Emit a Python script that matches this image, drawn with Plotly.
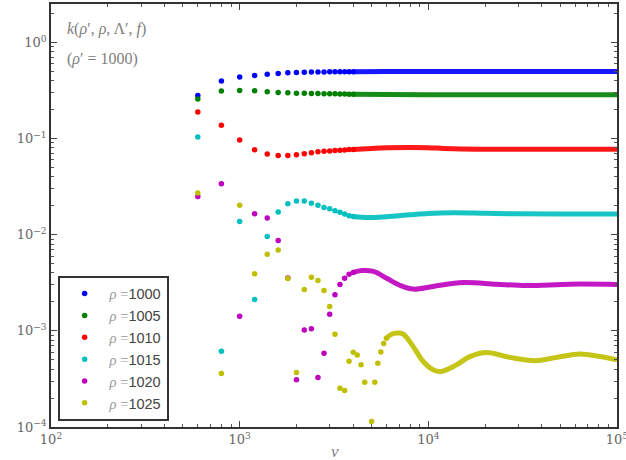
import plotly.graph_objects as go

# ---------------- data ----------------
v_dots = [600, 800, 1000, 1200, 1400, 1600, 1800, 2000, 2200, 2400,
          2600, 2800, 3000, 3200, 3400, 3600, 3800, 4000]

rho_labels = ["1000", "1005", "1010", "1015", "1020", "1025"]

k1000_dots = [0.28, 0.397, 0.436, 0.454, 0.468, 0.476, 0.483, 0.487, 0.490, 0.492,
              0.493, 0.494, 0.495, 0.495, 0.496, 0.496, 0.497, 0.497]
k1005_dots = [0.258, 0.312, 0.317, 0.314, 0.307, 0.302, 0.300, 0.297, 0.296, 0.295,
              0.294, 0.293, 0.292, 0.292, 0.291, 0.291, 0.290, 0.290]
k1010_dots = [0.189, 0.138, 0.0964, 0.0764, 0.069, 0.0667, 0.0667, 0.0678, 0.0695, 0.0711,
              0.0728, 0.074, 0.0745, 0.075, 0.0755, 0.076, 0.0768, 0.0772]
k1015_dots = [0.104, 6.15e-4, 0.0137, 2.12e-3, 9.6e-3, 0.0172, 0.0210, 0.0224, 0.0224, 0.0213,
              0.0203, 0.0192, 0.0186, 0.0178, 0.0171, 0.0164, 0.0158, 0.0155]
k1020_dots = [0.0250, 0.0339, 1.42e-3, 0.0165, 0.0149, 8.7e-3, 3.54e-3, 3.11e-4, 1.02e-3, 1.05e-3,
              3.27e-4, 5.86e-4, 1.49e-3, 2.37e-3, 3.03e-3, 3.53e-3, 3.89e-3, 4.05e-3]
k1025_dots = [0.0271, 3.6e-4, 0.0203, 3.92e-3, 6.28e-3, 6.92e-3, 3.50e-3, 3.68e-4, 2.69e-3, 3.62e-3,
              3.34e-3, 2.63e-3, 1.79e-3, 9.24e-4, 2.53e-4, 2.39e-4, 4.84e-4, 6.0e-4]

v_dots_1025_extra = [4200, 4400, 4600, 4800, 5000, 5200, 5400, 5600, 5800, 6000]
k1025_dots_extra = [5.62e-4, 4.43e-4, 2.92e-4, 6e-5, 1.14e-4, 2.92e-4, 4.61e-4, 6.04e-4, 7.38e-4, 8.39e-4]

# dense (visually continuous) parts, read at selected v
v_dense_1000 = [4000, 6000, 10000, 20000, 50000, 100000]
k_dense_1000 = [0.497, 0.499, 0.500, 0.500, 0.500, 0.500]
v_dense_1005 = [4000, 6000, 10000, 20000, 50000, 100000]
k_dense_1005 = [0.290, 0.288, 0.286, 0.285, 0.285, 0.285]
v_dense_1010 = [4000, 5000, 6000, 8000, 10000, 12000, 15000, 20000, 40000, 100000]
k_dense_1010 = [0.0772, 0.079, 0.0803, 0.081, 0.0805, 0.079, 0.0779, 0.0776, 0.0776, 0.0776]
v_dense_1015 = [4000, 4800, 6000, 8000, 10000, 13500, 20000, 30000, 50000, 100000]
k_dense_1015 = [0.0155, 0.0151, 0.0154, 0.0161, 0.0166, 0.0169, 0.0167, 0.0165, 0.0164, 0.0164]
v_dense_1020 = [4000, 4440, 5120, 6010, 7060, 8320, 10600, 15300, 22900, 33100, 56300, 100000]
k_dense_1020 = [4.05e-3, 4.24e-3, 4.15e-3, 3.53e-3, 2.98e-3, 2.72e-3, 2.9e-3, 3.18e-3, 3.06e-3,
                2.96e-3, 3.06e-3, 3.04e-3]
v_dense_1025 = [6000, 6200, 6600, 7000, 7400, 8300, 9400, 10600, 11700, 14100, 16600, 20400,
                27000, 36700, 47900, 63500, 81300, 100000]
k_dense_1025 = [8.39e-4, 8.9e-4, 9.4e-4, 9.5e-4, 9.2e-4, 6.9e-4, 4.8e-4, 3.93e-4, 3.77e-4, 4.43e-4,
                5.4e-4, 5.95e-4, 5.3e-4, 4.9e-4, 5.3e-4, 5.76e-4, 5.4e-4, 4.99e-4]

x_tick_vals = [100, 1000, 10000, 100000]
x_tick_text = ["10<sup>2</sup>", "10<sup>3</sup>", "10<sup>4</sup>", "10<sup>5</sup>"]
y_tick_vals = [1e-4, 1e-3, 1e-2, 1e-1, 1]
y_tick_text = ["10<sup>−4</sup>", "10<sup>−3</sup>", "10<sup>−2</sup>", "10<sup>−1</sup>", "10<sup>0</sup>"]

# ---------------- figure ----------------
colors = ["#0000ff", "#008000", "#ff0000", "#00bfbf", "#bf00bf", "#bfbf00"]

series = [
    (v_dots, k1000_dots, v_dense_1000, k_dense_1000),
    (v_dots, k1005_dots, v_dense_1005, k_dense_1005),
    (v_dots, k1010_dots, v_dense_1010, k_dense_1010),
    (v_dots, k1015_dots, v_dense_1015, k_dense_1015),
    (v_dots, k1020_dots, v_dense_1020, k_dense_1020),
    (v_dots + v_dots_1025_extra, k1025_dots + k1025_dots_extra, v_dense_1025, k_dense_1025),
]

fig = go.Figure()
for i, (vx, ky, vdx, kdy) in enumerate(series):
    fig.add_trace(go.Scatter(
        x=vdx, y=kdy, mode="lines", line=dict(color=colors[i], width=5, shape="spline"),
        opacity=0.9, showlegend=False, hoverinfo="skip"))
for i, (vx, ky, vdx, kdy) in enumerate(series):
    fig.add_trace(go.Scatter(
        x=vx, y=ky, mode="markers",
        marker=dict(color=colors[i], size=5.5, line=dict(width=0)),
        name="<span style='color:#9a9a9a;font-family:Liberation Serif'><i>ρ</i> =</span>" + rho_labels[i]))


def minor_vals(lo, hi):
    vals = []
    for e in range(lo, hi):
        for m in range(2, 10):
            vals.append(m * 10.0 ** e)
    return vals


axis_common = dict(
    type="log", showgrid=False, zeroline=False,
    showline=True, linecolor="#333", linewidth=1.6, mirror="allticks",
    ticks="inside", ticklen=6, tickwidth=1, tickcolor="#444",
    tickmode="array", ticklabeloverflow="allow",
    tickfont=dict(family="DejaVu Serif", size=13, color="#666"),
    automargin=False,
)

fig.update_xaxes(range=[2, 5], tickvals=x_tick_vals, ticktext=x_tick_text,
                 minor=dict(ticks="inside", ticklen=3, tickwidth=1, tickcolor="#555",
                            tickmode="array", tickvals=minor_vals(2, 5), showgrid=False),
                 **axis_common)
fig.update_yaxes(range=[-4, 0.40], tickvals=y_tick_vals, ticktext=y_tick_text,
                 minor=dict(ticks="inside", ticklen=3, tickwidth=1, tickcolor="#555",
                            tickmode="array", tickvals=minor_vals(-4, 1), showgrid=False),
                 **axis_common)

fig.update_layout(
    width=626, height=460,
    margin=dict(l=51, r=9, t=4, b=33),
    paper_bgcolor="white", plot_bgcolor="white",
    legend=dict(x=0.0124, y=0.014, xanchor="left", yanchor="bottom",
                bordercolor="#333", borderwidth=1.6, bgcolor="white",
                font=dict(family="Liberation Sans", size=14.5, color="#444"),
                itemwidth=40, tracegroupgap=0),
    annotations=[
        dict(text="<i>k</i>(<i>ρ</i>′, <i>ρ</i>, Λ′, <i>f</i>)", xref="paper", yref="paper",
             x=0.0247, y=0.941, xanchor="left", yanchor="middle", showarrow=False,
             font=dict(family="Liberation Serif", size=16, color="#808080")),
        dict(text="(<i>ρ</i>′ = 1000)", xref="paper", yref="paper",
             x=0.0247, y=0.870, xanchor="left", yanchor="middle", showarrow=False,
             font=dict(family="Liberation Serif", size=16, color="#808080")),
        dict(text="<i>v</i>", xref="paper", yref="paper",
             x=0.502, y=-0.059, xanchor="center", yanchor="middle", showarrow=False,
             font=dict(family="Liberation Serif", size=17, color="#808080")),
    ],
)

fig.write_html("out.html")
